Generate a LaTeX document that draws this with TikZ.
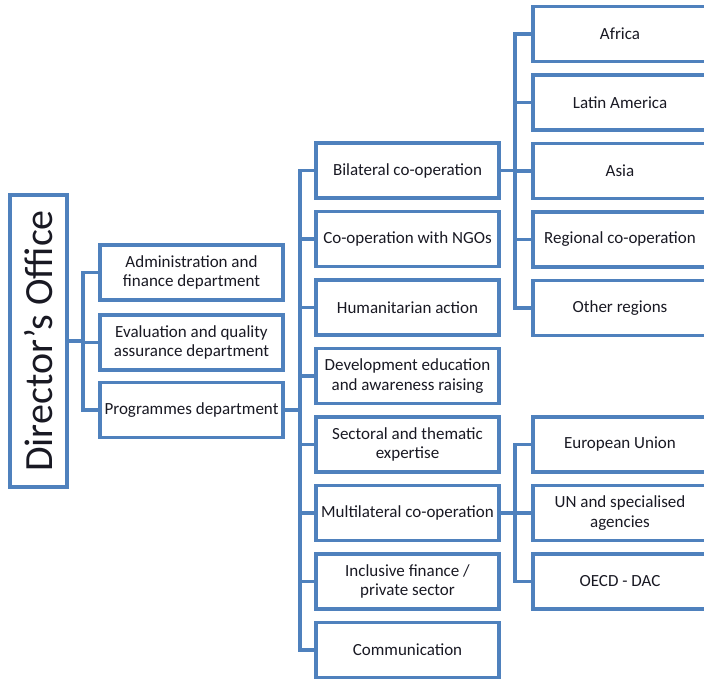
\documentclass[tikz,border=0pt]{standalone}
\usepackage{fontspec}
\setmainfont{Carlito}
\usetikzlibrary{calc, positioning}

\definecolor{orgblue}{RGB}{79,129,189}
\definecolor{orgtext}{RGB}{25,25,35}

\tikzset{
  unit/.style={draw=orgblue, line width=3.5pt, fill=white, text=orgtext,
    minimum width=183pt, minimum height=55pt, inner sep=0.5pt,
    align=center, font=\fontsize{17}{19.5}\selectfont},
  leaf/.style={unit, minimum width=174pt},
  link/.style={draw=orgblue, line width=3.5pt}
}

\begin{document}
\begin{tikzpicture}[x=1pt, y=-1pt]
\clip (0,0) rectangle (704,679);
\pgfmathsetmacro{\pitch}{68.5}

    % Director
    \node[draw=orgblue, line width=3.5pt, text=orgtext, minimum width=57pt,
      minimum height=292pt, inner sep=0pt] (dir) at (38.5,341)
      {\rotatebox{90}{\fontsize{40}{44}\selectfont Director’s Office}};

    % Departments
    \node[unit] (adm) at (191.5,272.5) {Administration and\\finance department};
    \node[unit] (eva) at (191.5,342.5) {Evaluation and quality\\assurance department};
    \node[unit] (prg) at (191.5,410) {Programmes department};

    \coordinate (busa) at (83,341);
    \draw[link] (dir.east) -- (busa);
    \foreach \n in {adm,eva,prg}
    {
    \draw[link] (busa) |- (\n.west);
    }

    % Units of the programmes department
    \foreach \n/\t [count=\i from 0] in {bil/{Bilateral co-operation},
        ngo/{Co-operation with NGOs}, hum/{Humanitarian action},
        dev/{Development education\\and awareness raising},
        sec/{Sectoral and thematic\\expertise},
        mul/{Multilateral co-operation},
        inc/{Inclusive finance /\\private sector}, com/{Communication}}
    {
    \node[unit] (\n) at (407.5,170.5+\i*\pitch) {\t};
    }

    \coordinate (busb) at (300,410);
    \draw[link] (prg.east) -- (busb);
    \foreach \n in {bil,ngo,hum,dev,sec,mul,inc,com}
    {
    \draw[link] (busb) |- (\n.west);
    }

    % Regions
    \foreach \n/\t [count=\i from 0] in {afr/{Africa}, lat/{Latin America},
        asi/{Asia}, reg/{Regional co-operation}, oth/{Other regions}}
    {
    \node[leaf] (\n) at (620,34+\i*\pitch) {\t};
    }

    \coordinate (busc) at (515,170.5);
    \draw[link] (bil.east) -- (busc);
    \foreach \n in {afr,lat,asi,reg,oth}
    {
    \draw[link] (busc) |- (\n.west);
    }

    % Multilateral partners
    \node[leaf] (eu)  at (620,444.5) {European Union};
    \node[leaf] (un)  at (620,513)   {UN and specialised\\agencies};
    \node[leaf] (oec) at (620,581.5) {OECD - DAC};

    \coordinate (busd) at (515,513);
    \draw[link] (mul.east) -- (busd);
    \foreach \n in {eu,un,oec}
    {
    \draw[link] (busd) |- (\n.west);
    }

\end{tikzpicture}
\end{document}
